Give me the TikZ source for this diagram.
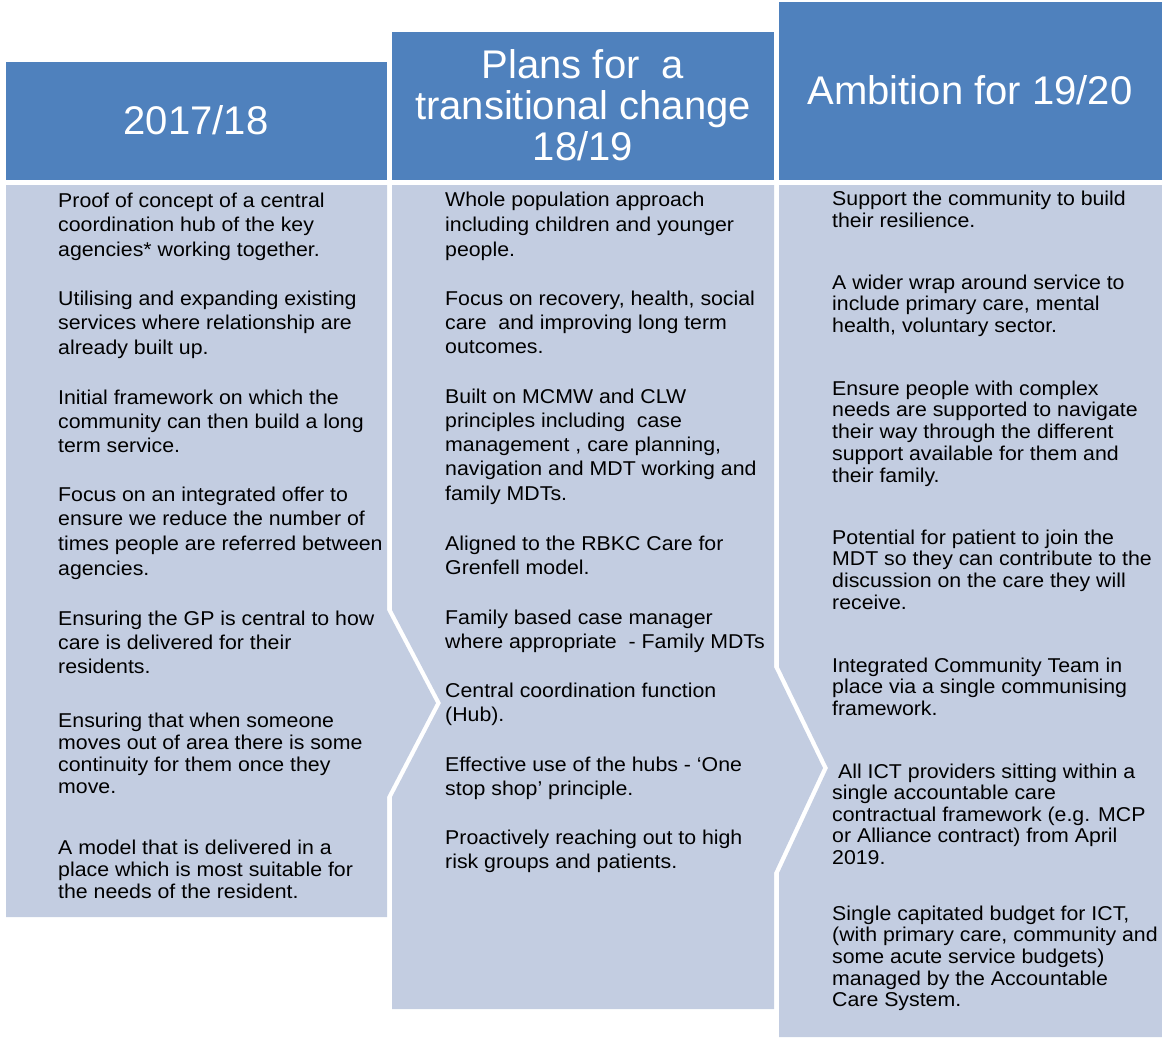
\documentclass[tikz,border=0pt]{standalone}
\usepackage{fontspec}
\setmainfont{Liberation Sans}
\newfontfamily\bodyf{Liberation Sans}[FakeStretch=1.065]
\definecolor{hdrblue}{RGB}{79,129,189}
\definecolor{bodyblue}{RGB}{195,205,225}
\newcommand{\plines}[2]{\vtop{\hsize=420pt\parindent=0pt\baselineskip=#1\relax\rightskip=0pt plus 1fil\parfillskip=0pt plus 1fil\noindent #2\par}}
\tikzset{
  hdr/.style={fill=hdrblue, draw=none},
  bodyshape/.style={fill=bodyblue, draw=none},
  hdrtext/.style={text=white, font=\fontsize{40}{41}\selectfont, align=center, inner sep=0pt},
  para/.style={anchor=base west, inner sep=0pt, text=black, font=\bodyf\fontsize{20}{24}\selectfont}
}
\begin{document}
\begin{tikzpicture}[x=1pt,y=-1pt]
\useasboundingbox (0,0) rectangle (1162,1037);
% headers
\path[hdr] (6,62) rectangle (387,180);
\path[hdr] (392,32) rectangle (774,180);
\path[hdr] (779,2) rectangle (1162,180);
% bodies
\path[bodyshape] (6,185) -- (387,185) -- (387,610) -- (436,703) -- (387,797) -- (387,917) -- (6,917) -- cycle;
\path[bodyshape] (392,185) -- (774,185) -- (774,667) -- (823,768) -- (774,873) -- (774,1009) -- (392,1009) -- (392,797) -- (441,703) -- (392,610) -- cycle;
\path[bodyshape] (779,185) -- (1162,185) -- (1162,1037) -- (779,1037) -- (779,873) -- (828,768) -- (779,667) -- cycle;
% header texts
\node[hdrtext] (h1) at (196,120) {2017/18};
\node[hdrtext] (h2) at (583,105) {Plans for\ \ a\\transitional change\\18/19};
\node[hdrtext] (h3) at (970,90) {Ambition for 19/20};
% column 1
\node[para] (c1p1) at (58,207) {\plines{24.5pt}{Proof of concept of a central\\coordination hub of the key\\agencies* working together.}};
\node[para] (c1p2) at (58,305) {\plines{24.5pt}{Utilising and expanding existing\\services where relationship are\\already built up.}};
\node[para] (c1p3) at (58,404) {\plines{24pt}{Initial framework on which the\\community can then build a long\\term service.}};
\node[para] (c1p4) at (58,501) {\plines{24.7pt}{Focus on an integrated offer to\\ensure we reduce the number of\\times people are referred between\\agencies.}};
\node[para] (c1p5) at (58,625) {\plines{24pt}{Ensuring the GP is central to how\\care is delivered for their\\residents.}};
\node[para] (c1p6) at (58,727) {\plines{22pt}{Ensuring that when someone\\moves out of area there is some\\continuity for them once they\\move.}};
\node[para] (c1p7) at (58,854) {\plines{22pt}{A model that is delivered in a\\place which is most suitable for\\the needs of the resident.}};
% column 2
\node[para] (c2p1) at (445,206) {\plines{25pt}{Whole population approach\\including children and younger\\people.}};
\node[para] (c2p2) at (445,305) {\plines{24pt}{Focus on recovery, health, social\\care\ \ and improving long term\\outcomes.}};
\node[para] (c2p3) at (445,403) {\plines{24.3pt}{Built on MCMW and CLW\\principles including\ \ case\\management , care planning,\\navigation and MDT working and\\family MDTs.}};
\node[para] (c2p4) at (445,550) {\plines{24pt}{Aligned to the RBKC Care for\\Grenfell model.}};
\node[para] (c2p5) at (445,624) {\plines{24pt}{Family based case manager\\where appropriate\ \ - Family MDTs}};
\node[para] (c2p6) at (445,697) {\plines{24pt}{Central coordination function\\(Hub).}};
\node[para] (c2p7) at (445,771) {\plines{24pt}{Effective use of the hubs - ‘One\\stop shop’ principle.}};
\node[para] (c2p8) at (445,844) {\plines{24pt}{Proactively reaching out to high\\risk groups and patients.}};
% column 3
\node[para] (c3p1) at (832,205) {\plines{22pt}{Support the community to build\\their resilience.}};
\node[para] (c3p2) at (832,289) {\plines{21.5pt}{A wider wrap around service to\\include primary care, mental\\health, voluntary sector.}};
\node[para] (c3p3) at (832,395) {\plines{21.8pt}{Ensure people with complex\\needs are supported to navigate\\their way through the different\\support available for them and\\their family.}};
\node[para] (c3p4) at (832,544) {\plines{21.7pt}{Potential for patient to join the\\MDT so they can contribute to the\\discussion on the care they will\\receive.}};
\node[para] (c3p5) at (832,672) {\plines{21.5pt}{Integrated Community Team in\\place via a single communising\\framework.}};
\node[para] (c3p6) at (832,778) {\plines{21.5pt}{\ All ICT providers sitting within a\\single accountable care\\contractual framework (e.g. MCP\\or Alliance contract) from April\\2019.}};
\node[para] (c3p7) at (832,920) {\plines{21.7pt}{Single capitated budget for ICT,\\(with primary care, community and\\some acute service budgets)\\managed by the Accountable\\Care System.}};
\end{tikzpicture}
\end{document}
